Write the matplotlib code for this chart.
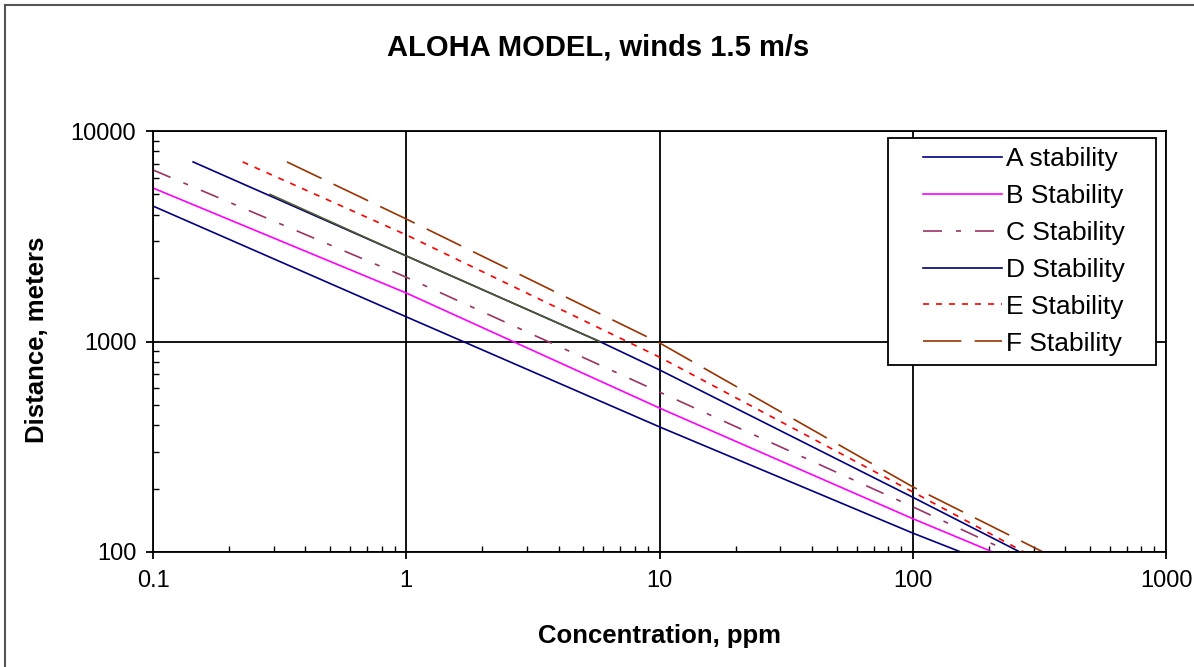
import matplotlib
matplotlib.use("Agg")
import matplotlib.pyplot as plt
from matplotlib.ticker import LogLocator, FixedLocator, NullFormatter, FixedFormatter
from matplotlib.lines import Line2D
from matplotlib.patches import Rectangle

plt.rcParams['font.family'] = ['Liberation Sans', 'DejaVu Sans']

# ---- data ----
a_conc = [0.1, 1, 10, 100, 155]
a_dist = [4400, 1310, 393, 123, 100]

b_conc = [0.1, 1, 10, 100, 207]
b_dist = [5360, 1700, 483, 144, 100]

c_conc = [0.1, 1, 10, 100, 242]
c_dist = [6530, 2020, 575, 164, 100]

d_conc = [0.144, 1, 5.8, 10, 100, 265]
d_dist = [7130, 2550, 1000, 733, 182, 100]

e_conc = [0.226, 1, 10, 100, 275]
e_dist = [7130, 3210, 843, 193, 100]

f_conc = [0.338, 1, 10, 100, 327]
f_dist = [7130, 3820, 985, 204, 100]

# unlabelled olive overlay along part of the D curve
g_conc = [0.29, 1, 5.8]
g_dist = [5000, 2550, 1000]

labels = ["A stability", "B Stability", "C Stability",
          "D Stability", "E Stability", "F Stability"]
x_ticks = [0.1, 1, 10, 100, 1000]
x_ticklabels = ["0.1", "1", "10", "100", "1000"]
y_ticks = [100, 1000, 10000]
y_ticklabels = ["100", "1000", "10000"]

W, H = 1194, 667
fig = plt.figure(figsize=(W / 100, H / 100), dpi=100)
ax = fig.add_axes([153/W, 1-552/H, (1166-153)/W, (552-131)/H])

navy = "#000080"
lw = 1.2
handles = []
handles += ax.plot(a_conc, a_dist, color=navy, lw=lw, label=labels[0])
handles += ax.plot(b_conc, b_dist, color="#FF00FF", lw=lw, label=labels[1])
handles += ax.plot(c_conc, c_dist, color="#993366", lw=lw, label=labels[2],
                   dashes=(11.4, 8.4, 3, 8.4))
handles += ax.plot(d_conc, d_dist, color=navy, lw=lw, label=labels[3])
ax.plot(g_conc, g_dist, color="#4F5B2A", lw=lw)
handles += ax.plot(e_conc, e_dist, color="#FF0000", lw=lw, label=labels[4],
                   dashes=(3.6, 4.2))
handles += ax.plot(f_conc, f_dist, color="#993300", lw=lw, label=labels[5],
                   dashes=(23, 8))

ax.set_xscale('log')
ax.set_yscale('log')
ax.set_xlim(0.1, 1000)
ax.set_ylim(100, 10000)

ax.xaxis.set_major_locator(FixedLocator(x_ticks))
ax.xaxis.set_major_formatter(FixedFormatter(x_ticklabels))
ax.yaxis.set_major_locator(FixedLocator(y_ticks))
ax.yaxis.set_major_formatter(FixedFormatter(y_ticklabels))
ax.xaxis.set_minor_locator(LogLocator(base=10, subs=range(2, 10)))
ax.yaxis.set_minor_locator(LogLocator(base=10, subs=range(2, 10)))
ax.xaxis.set_minor_formatter(NullFormatter())
ax.yaxis.set_minor_formatter(NullFormatter())

ax.tick_params(which='major', direction='out', length=5, width=1.3,
               labelsize=17, colors='black')
ax.tick_params(axis='x', which='major', pad=8)
ax.tick_params(axis='y', which='major', pad=7)
ax.tick_params(which='minor', direction='in', length=4, width=1.0)
ax.grid(which='major', color='black', lw=1.3)
for s in ax.spines.values():
    s.set_linewidth(1.3)
    s.set_color('black')

fig.text(598/W, 1-47/H, "ALOHA MODEL, winds 1.5 m/s", fontsize=21,
         fontweight='bold', ha='center', va='center')
fig.text(659/W, 1-636/H, "Concentration, ppm", fontsize=18.5,
         fontweight='bold', ha='center', va='center')
fig.text(37/W, 1-340/H, "Distance, meters", fontsize=18.5,
         fontweight='bold', ha='center', va='center', rotation=90)

# legend box
fig.add_artist(Rectangle((888/W, 1-365/H), (1156-888)/W, (365-138)/H,
                         transform=fig.transFigure, facecolor='white',
                         edgecolor='black', lw=1.3, zorder=4))
leg = fig.legend(handles=handles, loc='upper left',
                 bbox_to_anchor=(923/W, 1-147/H), fontsize=19, frameon=False,
                 handlelength=3.0, handletextpad=0.15, labelspacing=0.49,
                 borderpad=0, borderaxespad=0)
leg.set_zorder(5)

# figure frame (left and top edges visible in the reference)
fig.add_artist(Line2D([5/W, 5/W], [0, 1-5/H], transform=fig.transFigure,
                      color='#555555', lw=1.5))
fig.add_artist(Line2D([5/W, 1], [1-5/H, 1-5/H], transform=fig.transFigure,
                      color='#555555', lw=1.5))

fig.savefig("out.png", dpi=100)
